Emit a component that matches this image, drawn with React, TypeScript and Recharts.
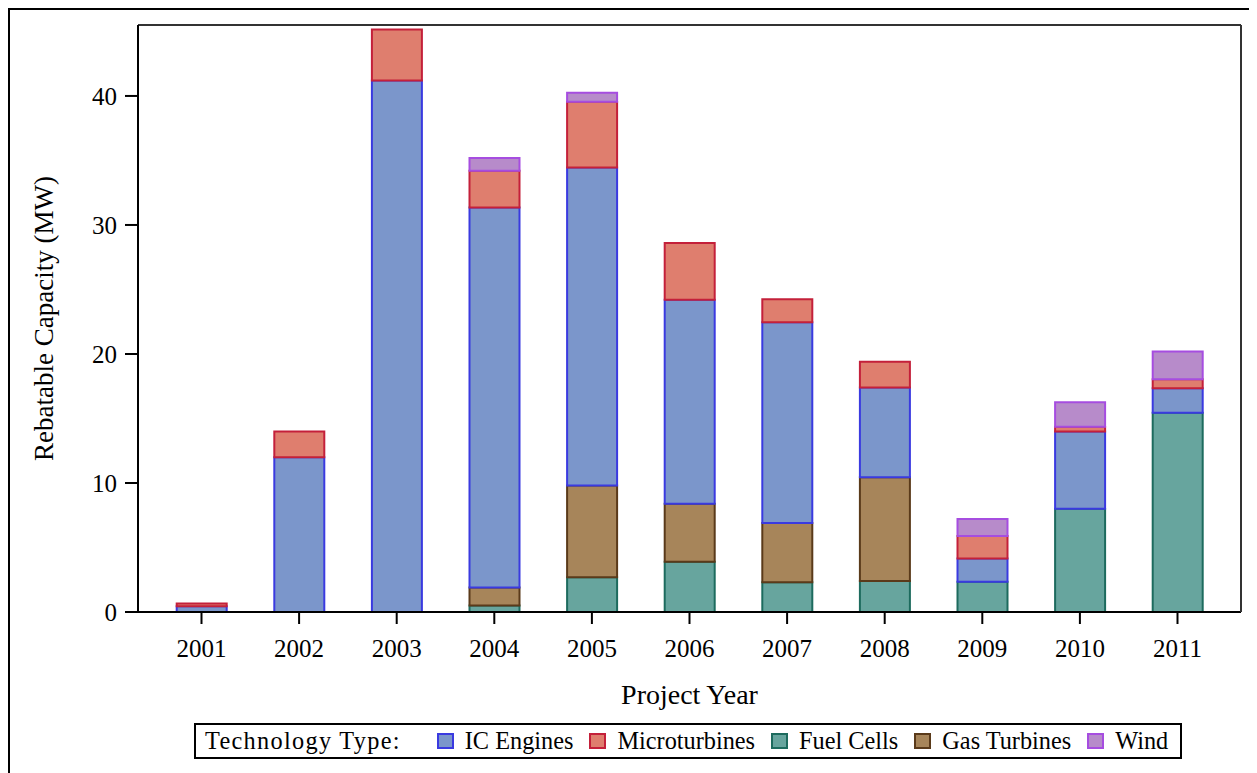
import React from 'react';
import { BarChart, Bar, XAxis, YAxis } from 'recharts';

const years = ['2001', '2002', '2003', '2004', '2005', '2006', '2007', '2008', '2009', '2010', '2011'];
const fuelCells = [null, null, null, 0.5, 2.7, 3.9, 2.3, 2.4, 2.35, 8.0, 15.45];
const gasTurbines = [null, null, null, 1.4, 7.1, 4.5, 4.6, 8.05, null, null, null];
const icEngines = [0.45, 12.0, 41.2, 29.45, 24.65, 15.8, 15.55, 6.95, 1.8, 6.0, 1.9];
const microturbines = [0.2, 2.0, 3.95, 2.85, 5.1, 4.4, 1.8, 2.0, 1.75, 0.35, 0.7];
const wind = [null, null, null, 1.0, 0.7, null, null, null, 1.3, 1.9, 2.15];
const yTicks = [0, 10, 20, 30, 40];

// stacking order bottom -> top
const series = [
  { key: 'fuel', name: 'Fuel Cells', values: fuelCells, fill: '#67a59e', stroke: '#1d6b5e' },
  { key: 'gas', name: 'Gas Turbines', values: gasTurbines, fill: '#a7855a', stroke: '#5a3a1a' },
  { key: 'ic', name: 'IC Engines', values: icEngines, fill: '#7b96cb', stroke: '#3a3ae0' },
  { key: 'micro', name: 'Microturbines', values: microturbines, fill: '#df7e6e', stroke: '#c4203a' },
  { key: 'wind', name: 'Wind', values: wind, fill: '#b78bca', stroke: '#a64de0' },
];
const legendOrder = ['ic', 'micro', 'fuel', 'gas', 'wind'];

const data = years.map((y, i) => {
  const row: Record<string, any> = { year: y };
  series.forEach((s) => {
    row[s.key] = s.values[i];
  });
  return row;
});

const FONT = '"Liberation Serif", "Times New Roman", serif';

export default function App() {
  return (
    <div
      style={{
        position: 'relative',
        width: 1249,
        height: 765,
        boxSizing: 'border-box',
        borderLeft: '2px solid #000',
        borderTop: '2px solid #000',
        fontFamily: FONT,
      }}
    >
      <div style={{ position: 'absolute', left: -2, top: -2 }}>
        <BarChart
          width={1249}
          height={765}
          data={data}
          margin={{ top: 16, right: 15, bottom: 61, left: 50 }}
          barSize={50}
        >
          <XAxis
            dataKey="year"
            xAxisId="main"
            padding={{ left: 14.7, right: 14.7 }}
            height={100}
            tickSize={12}
            tickMargin={15}
            axisLine={{ stroke: '#000', strokeWidth: 2 }}
            tickLine={{ stroke: '#000', strokeWidth: 2 }}
            tick={{ fill: '#000', fontSize: 25, fontFamily: FONT }}
            label={{
              content: (props: any) => {
                const vb = props.viewBox;
                return (
                  <text
                    x={vb.x + vb.width / 2}
                    y={vb.y + 92}
                    textAnchor="middle"
                    fontSize={28}
                    fontFamily={FONT}
                    fill="#000"
                  >
                    Project Year
                  </text>
                );
              },
            }}
          />
          <XAxis
            dataKey="year"
            xAxisId="top"
            orientation="top"
            height={1}
            padding={{ left: 14.7, right: 14.7 }}
            tick={false}
            tickLine={false}
            axisLine={{ stroke: '#333', strokeWidth: 2 }}
          />
          <YAxis
            yAxisId="main"
            domain={[0, 45.5]}
            ticks={yTicks}
            width={80}
            tickSize={13}
            tickMargin={8}
            allowDataOverflow
            axisLine={{ stroke: '#000', strokeWidth: 2 }}
            tickLine={{ stroke: '#000', strokeWidth: 2 }}
            tick={{ fill: '#000', fontSize: 25, fontFamily: FONT }}
            label={{
              content: (props: any) => {
                const vb = props.viewBox;
                const cx = vb.x - 14;
                const cy = vb.y + vb.height / 2;
                return (
                  <text
                    x={cx}
                    y={cy}
                    transform={`rotate(-90 ${cx} ${cy})`}
                    textAnchor="middle"
                    dominantBaseline="central"
                    fontSize={27}
                    fontFamily={FONT}
                    fill="#000"
                  >
                    Rebatable Capacity (MW)
                  </text>
                );
              },
            }}
          />
          <YAxis
            yAxisId="right"
            orientation="right"
            width={1}
            domain={[0, 45.5]}
            tick={false}
            tickLine={false}
            axisLine={{ stroke: '#333', strokeWidth: 2 }}
          />
          {series.map((s) => (
            <Bar
              key={s.key}
              dataKey={s.key}
              name={s.name}
              stackId="a"
              xAxisId="main"
              yAxisId="main"
              fill={s.fill}
              stroke={s.stroke}
              strokeWidth={2}
              isAnimationActive={false}
            />
          ))}
        </BarChart>
      </div>
      <div
        style={{
          position: 'absolute',
          left: 184,
          top: 713,
          width: 988,
          height: 36,
          boxSizing: 'border-box',
          border: '2px solid #000',
          display: 'flex',
          alignItems: 'center',
          paddingLeft: 9,
          fontSize: 24.3,
          color: '#000',
          fontFamily: FONT,
          whiteSpace: 'nowrap',
        }}
      >
        <span style={{ display: 'inline-block', width: 196, marginRight: 36, letterSpacing: 1.3 }}>
          Technology Type:
        </span>
        {legendOrder.map((k) => {
          const s = series.find((x) => x.key === k)!;
          return (
            <span key={k} style={{ display: 'flex', alignItems: 'center', marginRight: 16 }}>
              <span
                style={{
                  display: 'inline-block',
                  width: 17,
                  height: 16,
                  boxSizing: 'border-box',
                  background: s.fill,
                  border: `2px solid ${s.stroke}`,
                  marginRight: 11,
                }}
              />
              <span>{s.name}</span>
            </span>
          );
        })}
      </div>
    </div>
  );
}
